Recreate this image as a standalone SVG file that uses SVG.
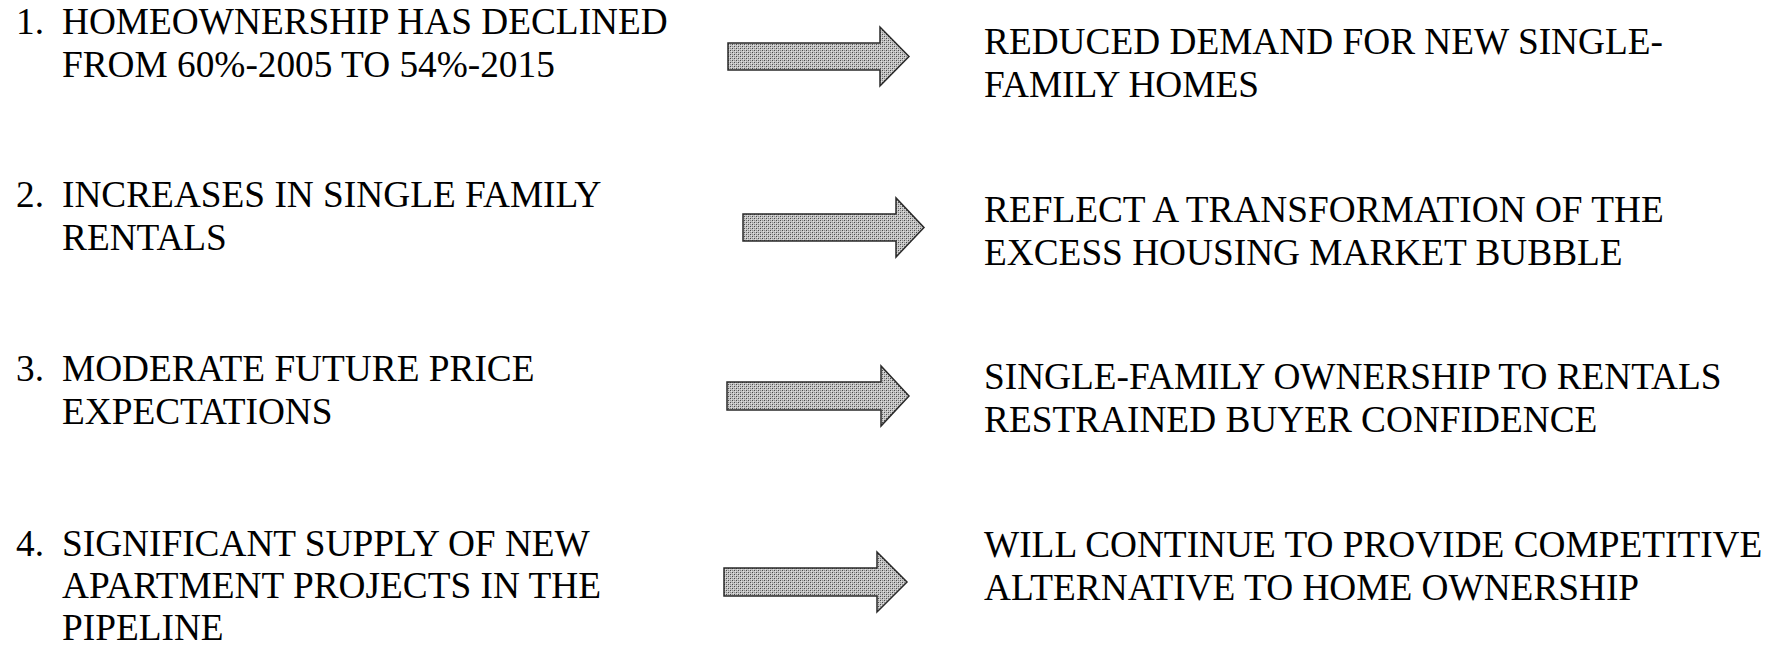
<svg xmlns="http://www.w3.org/2000/svg" width="1775" height="645" viewBox="0 0 1775 645">
  <style>
    .t { font-family: "Liberation Serif", "Times New Roman", serif; font-size: 37.3px; fill: #000; }
    .arrow { fill: url(#dots); stroke: #2a2a2a; stroke-width: 1.5; stroke-linejoin: miter; }
  </style>
  <defs>
    <!-- halftone-style grey fill for the block arrows -->
    <pattern id="dots" width="4" height="4" patternUnits="userSpaceOnUse">
      <rect width="4" height="4" fill="#c4c4c4"/>
      <rect x="0" y="0" width="1" height="1" fill="#4a4a4a"/>
      <rect x="2" y="2" width="1" height="1" fill="#4a4a4a"/>
      <rect x="2" y="0" width="1" height="1" fill="#8c8c8c"/>
      <rect x="0" y="2" width="1" height="1" fill="#8c8c8c"/>
      <rect x="1" y="1" width="1" height="1" fill="#e0e0e0"/>
      <rect x="3" y="3" width="1" height="1" fill="#e0e0e0"/>
    </pattern>
  </defs>

  <rect width="1775" height="645" fill="#fff"/>

  <!-- causes (left column) -->
  <g id="cause1">
    <text class="t" x="16" y="34">1.</text>
    <text class="t" x="62" y="34">HOMEOWNERSHIP HAS DECLINED</text>
    <text class="t" x="62" y="77">FROM 60%-2005 TO 54%-2015</text>
  </g>
  <g id="cause2">
    <text class="t" x="16" y="207">2.</text>
    <text class="t" x="62" y="207">INCREASES IN SINGLE FAMILY</text>
    <text class="t" x="62" y="250">RENTALS</text>
  </g>
  <g id="cause3">
    <text class="t" x="16" y="381">3.</text>
    <text class="t" x="62" y="381">MODERATE FUTURE PRICE</text>
    <text class="t" x="62" y="424">EXPECTATIONS</text>
  </g>
  <g id="cause4">
    <text class="t" x="16" y="556">4.</text>
    <text class="t" x="62" y="556">SIGNIFICANT SUPPLY OF NEW</text>
    <text class="t" x="62" y="598">APARTMENT PROJECTS IN THE</text>
    <text class="t" x="62" y="640">PIPELINE</text>
  </g>

  <!-- effects (right column) -->
  <g id="effect1">
    <text class="t" x="984" y="54">REDUCED DEMAND FOR NEW SINGLE-</text>
    <text class="t" x="984" y="97">FAMILY HOMES</text>
  </g>
  <g id="effect2">
    <text class="t" x="984" y="222">REFLECT A TRANSFORMATION OF THE</text>
    <text class="t" x="984" y="265">EXCESS HOUSING MARKET BUBBLE</text>
  </g>
  <g id="effect3">
    <text class="t" x="984" y="389">SINGLE-FAMILY OWNERSHIP TO RENTALS</text>
    <text class="t" x="984" y="432">RESTRAINED BUYER CONFIDENCE</text>
  </g>
  <g id="effect4">
    <text class="t" x="984" y="557">WILL CONTINUE TO PROVIDE COMPETITIVE</text>
    <text class="t" x="984" y="600">ALTERNATIVE TO HOME OWNERSHIP</text>
  </g>

  <!-- block arrows linking each cause to its effect -->
  <g id="connectors">
    <path class="arrow" d="M728,43 H880 V27 L909,56.5 L880,86 V70 H728 Z"/>
    <path class="arrow" d="M743,214 H896 V198 L924,227.5 L896,257 V241 H743 Z"/>
    <path class="arrow" d="M727,382 H881 V366 L909,396 L881,426 V410 H727 Z"/>
    <path class="arrow" d="M724,568 H877 V552 L907,582 L877,612 V596 H724 Z"/>
  </g>
</svg>
